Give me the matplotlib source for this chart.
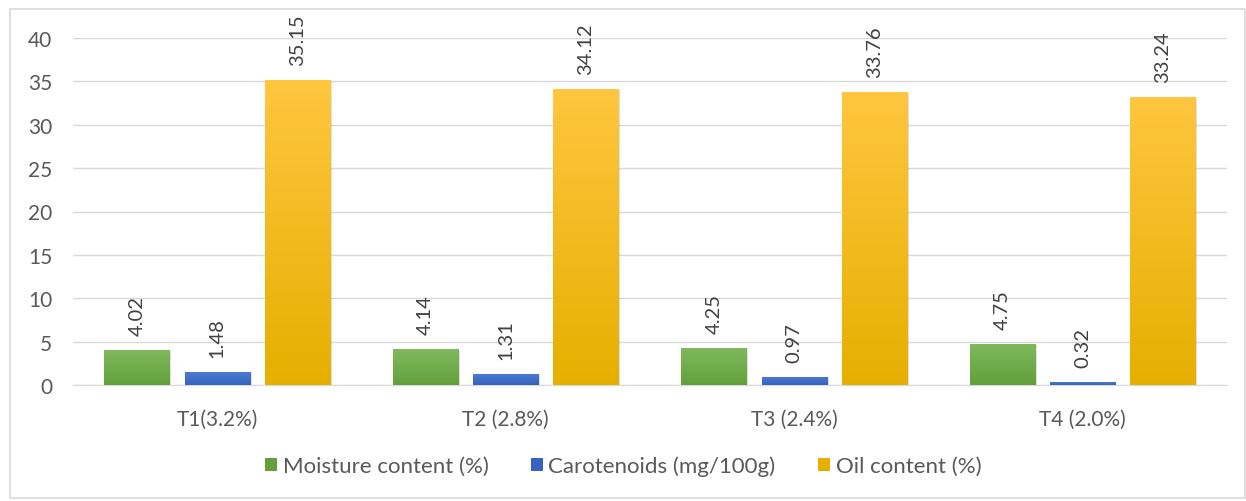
import numpy as np
import matplotlib.pyplot as plt
from matplotlib.colors import LinearSegmentedColormap
from matplotlib.patches import Rectangle, Patch

categories = ['T1(3.2%)', 'T2 (2.8%)', 'T3 (2.4%)', 'T4 (2.0%)']
moisture = [4.02, 4.14, 4.25, 4.75]
carotenoids = [1.48, 1.31, 0.97, 0.32]
oil = [35.15, 34.12, 33.76, 33.24]
series_names = ['Moisture content (%)', 'Carotenoids (mg/100g)', 'Oil content (%)']

# (top colour, bottom colour) for the Excel-like gradient fill
grads = [('#80b95e', '#62a03b'), ('#4c7bd2', '#3563bf'), ('#ffc640', '#e6af00')]

plt.rcParams['font.family'] = ['Lato', 'DejaVu Sans']

fig = plt.figure(figsize=(12.46, 5.02), dpi=100)
ax = fig.add_axes([73 / 1246, 1 - 386 / 502, 1154 / 1246, 347 / 502])

# outer chart border
fig.patches.append(Rectangle((10 / 1246, 0.005), 1 - 10 / 1246 - 0.001, 1 - 10 / 502 - 0.005,
                             transform=fig.transFigure, fill=False, edgecolor='#d9d9d9', lw=1.2))

x = np.arange(len(categories))
width = 0.226
step = 0.278
grad = np.linspace(0, 1, 256).reshape(-1, 1)

for i, (vals, (ctop, cbot)) in enumerate(zip([moisture, carotenoids, oil], grads)):
    cmap = LinearSegmentedColormap.from_list('g%d' % i, [cbot, ctop])
    offs = (i - 1) * step
    bars = ax.bar(x + offs, vals, width, color='none', edgecolor='none', zorder=3)
    for b, v in zip(bars, vals):
        x0 = b.get_x()
        # soft shadow
        ax.add_patch(Rectangle((x0 + 0.006, -0.15), b.get_width(), v, facecolor='#000000',
                               alpha=0.12, edgecolor='none', zorder=2))
        im = ax.imshow(grad, cmap=cmap, origin='lower', aspect='auto',
                       extent=[x0, x0 + b.get_width(), 0, v], zorder=3)
        im.set_clip_path(b)
        ax.text(x0 + b.get_width() / 2, v + 1.7, f'{v:.2f}', rotation=90, ha='center',
                va='bottom', fontsize=14.5, color='#404040', zorder=4)

ax.set_xlim(-0.5, len(categories) - 0.5)
ax.set_ylim(0, 40)
ax.set_yticks(range(0, 41, 5))
ax.set_xticks(x)
ax.set_xticklabels(categories)
ax.yaxis.grid(True, color='#d9d9d9', lw=1, zorder=0)
ax.set_axisbelow(True)
for s in ['top', 'right', 'left']:
    ax.spines[s].set_visible(False)
ax.spines['bottom'].set_color('#d9d9d9')
ax.tick_params(axis='both', length=0, labelsize=15, colors='#595959')
ax.tick_params(axis='y', pad=15)
ax.tick_params(axis='x', pad=17)

handles = [Patch(facecolor=c[1], edgecolor='none') for c in grads]
fig.legend(handles, series_names, loc='center', bbox_to_anchor=(0.5, 1 - 467 / 502), ncol=3,
           frameon=False, fontsize=16, labelcolor='#595959', handlelength=0.55, handleheight=0.55,
           handletextpad=0.25, columnspacing=1.9)

fig.savefig('out.png', dpi=100)
